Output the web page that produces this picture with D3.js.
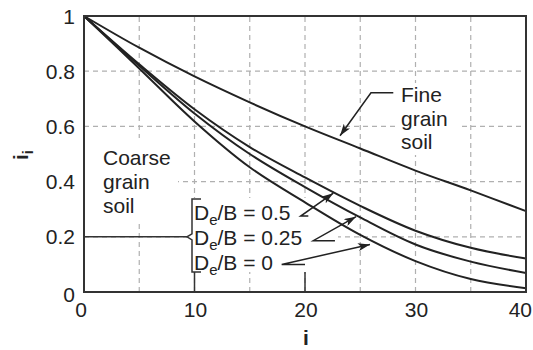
<!DOCTYPE html>
<html>
<head>
<meta charset="utf-8">
<script src="https://cdn.jsdelivr.net/npm/d3@7"></script>
<style>
  body { margin: 0; background: #fff; }
  text { font-family: "Liberation Sans", Arial, Helvetica, sans-serif; fill: #222; }
</style>
</head>
<body>
<div id="chart"></div>
<script>
// inclination angle i (degrees)
const iVals = [0, 5, 10, 15, 20, 25, 30, 35, 40];
// inclination factor i_i
const fineGrain = [1, 0.885, 0.781, 0.687, 0.600, 0.520, 0.440, 0.368, 0.293];
const coarse05 = [1, 0.825, 0.662, 0.525, 0.415, 0.312, 0.222, 0.160, 0.121];
const coarse025 = [1, 0.82, 0.647, 0.50, 0.38, 0.270, 0.172, 0.110, 0.069];
const coarse0 = [1, 0.81, 0.618, 0.452, 0.325, 0.207, 0.112, 0.047, 0.014];

const xTicks = [0, 10, 20, 30, 40];
const yTicks = [0, 0.2, 0.4, 0.6, 0.8, 1];
const yTickLabels = ["0", "0.2", "0.4", "0.6", "0.8", "1"];
const xGrid = [5, 10, 15, 20, 25, 30, 35];
const yGrid = [0.2, 0.4, 0.6, 0.8];

const W = 533, H = 350;
const fs = 21;

let svg = d3.select("#chart").append("svg")
    .attr("width", W)
    .attr("height", H);

let x = d3.scaleLinear().domain([0, 40]).range([84, 526]);
let y = d3.scaleLinear().domain([0, 1]).range([292, 16]);

// arrow head
svg.append("defs").append("marker")
    .attr("id", "arrow")
    .attr("viewBox", "0 0 12 8")
    .attr("refX", 12)
    .attr("refY", 4)
    .attr("markerWidth", 12)
    .attr("markerHeight", 8)
    .attr("markerUnits", "userSpaceOnUse")
    .attr("orient", "auto")
    .append("path")
    .attr("d", "M0,0 L12,4 L0,8 L3,4 Z")
    .attr("fill", "#222");

//Dashed grid
svg.append("g").selectAll("line").data(xGrid).enter().append("line")
    .attr("x1", d => x(d)).attr("x2", d => x(d))
    .attr("y1", y(0)).attr("y2", y(1))
    .attr("stroke", "#b0b0b0").attr("stroke-width", 1.2)
    .attr("stroke-dasharray", "5,4");
svg.append("g").selectAll("line").data(yGrid).enter().append("line")
    .attr("x1", x(0)).attr("x2", x(40))
    .attr("y1", d => y(d)).attr("y2", d => y(d))
    .attr("stroke", "#b0b0b0").attr("stroke-width", 1.2)
    .attr("stroke-dasharray", "5,4");

//White boxes behind the labels
const boxes = [
    [84, 138, 94, 82],
    [396, 83, 62, 72],
    [188, 198, 150, 74]
];
svg.append("g").selectAll("rect").data(boxes).enter().append("rect")
    .attr("x", d => d[0]).attr("y", d => d[1])
    .attr("width", d => d[2]).attr("height", d => d[3])
    .attr("fill", "#fff");

//Curves
let line = d3.line()
    .x((d, i) => x(iVals[i]))
    .y(d => y(d))
    .curve(d3.curveCatmullRom.alpha(0.5));

svg.append("g").selectAll("path")
    .data([fineGrain, coarse05, coarse025, coarse0])
    .enter().append("path")
    .attr("d", d => line(d))
    .attr("fill", "none")
    .attr("stroke", "#222")
    .attr("stroke-width", 2);

//Frame
svg.append("rect")
    .attr("x", x(0)).attr("y", y(1))
    .attr("width", x(40) - x(0)).attr("height", y(0) - y(1))
    .attr("fill", "none")
    .attr("stroke", "#333")
    .attr("stroke-width", 2);

//Tick labels
svg.append("g").selectAll("text").data(xTicks).enter().append("text")
    .attr("x", d => d === 0 ? x(d) - 3 : x(d) + 1)
    .attr("y", 317)
    .attr("text-anchor", d => d === 40 ? "end" : "middle")
    .attr("dx", d => d === 40 ? 5 : 0)
    .style("font-size", fs + "px")
    .text(d => d);
svg.append("g").selectAll("text").data(yTicks).enter().append("text")
    .attr("x", 75)
    .attr("y", d => d === 0 ? y(d) + 10 : y(d) + 7.5)
    .attr("text-anchor", "end")
    .style("font-size", fs + "px")
    .text((d, i) => yTickLabels[i]);

//Axis titles
svg.append("text")
    .attr("x", 306).attr("y", 345)
    .attr("text-anchor", "middle")
    .style("font-size", fs + "px")
    .style("font-weight", "bold")
    .text("i");
let yt = svg.append("text")
    .attr("transform", "translate(28,160) rotate(-90)")
    .style("font-size", fs + "px")
    .style("font-weight", "bold");
yt.append("tspan").text("i");
yt.append("tspan").attr("dy", 5).style("font-size", "15px").text("i");

//Coarse grain label
svg.append("g").selectAll("text").data(["Coarse", "grain", "soil"]).enter().append("text")
    .attr("x", 103)
    .attr("y", (d, i) => 165 + i * 24)
    .style("font-size", fs + "px")
    .text(d => d);

//Fine grain label
svg.append("g").selectAll("text").data(["Fine", "grain", "soil"]).enter().append("text")
    .attr("x", 401)
    .attr("y", (d, i) => 102 + i * 23.5)
    .style("font-size", fs + "px")
    .text(d => d);

//De/B labels
const deb = ["0.5", "0.25", "0"];
deb.forEach(function (v, i) {
    let t = svg.append("text")
        .attr("x", 194)
        .attr("y", 220 + i * 25)
        .style("font-size", fs + "px");
    t.append("tspan").text("D");
    t.append("tspan").attr("dy", 5).style("font-size", "15px").text("e");
    t.append("tspan").attr("dy", -5).text("/B = " + v);
});

//Leader lines (data coords)
const leaders = [
    [[25.97, 0.722], [27.99, 0.722], [23.17, 0.566]],
    [[19.61, 0.275], [20.3, 0.275], [22.56, 0.358]],
    [[20.75, 0.186], [22.71, 0.186], [24.62, 0.273]],
    [[17.89, 0.100], [20.0, 0.100], [25.88, 0.172]]
];
leaders.forEach(function (p) {
    svg.append("path")
        .attr("d", "M" + x(p[1][0]) + "," + y(p[1][1]) +
            "L" + x(p[0][0]) + "," + y(p[0][1]) +
            "L" + x(p[2][0]) + "," + y(p[2][1]))
        .attr("fill", "none")
        .attr("stroke", "#222")
        .attr("stroke-width", 1.5)
        .attr("marker-end", "url(#arrow)");
});

//Bracket and connectors
let bx = x(10) - 2.5, bTop = 199, bBot = 272, bMid = y(0.2);
svg.append("path")
    .attr("d", "M" + (bx + 9) + "," + bTop + "L" + bx + "," + bTop +
        "L" + bx + "," + (bMid - 3) + "L" + (bx - 5) + "," + bMid +
        "L" + bx + "," + (bMid + 3) + "L" + bx + "," + bBot +
        "L" + (bx + 9) + "," + bBot)
    .attr("fill", "none")
    .attr("stroke", "#333")
    .attr("stroke-width", 1.5);
svg.append("line")
    .attr("x1", x(0)).attr("x2", bx - 5)
    .attr("y1", bMid).attr("y2", bMid)
    .attr("stroke", "#333").attr("stroke-width", 1.5);
[10, 20].forEach(function (v) {
    svg.append("line")
        .attr("x1", x(v)).attr("x2", x(v))
        .attr("y1", bBot).attr("y2", y(0))
        .attr("stroke", "#333").attr("stroke-width", 1.5);
});
</script>
</body>
</html>
